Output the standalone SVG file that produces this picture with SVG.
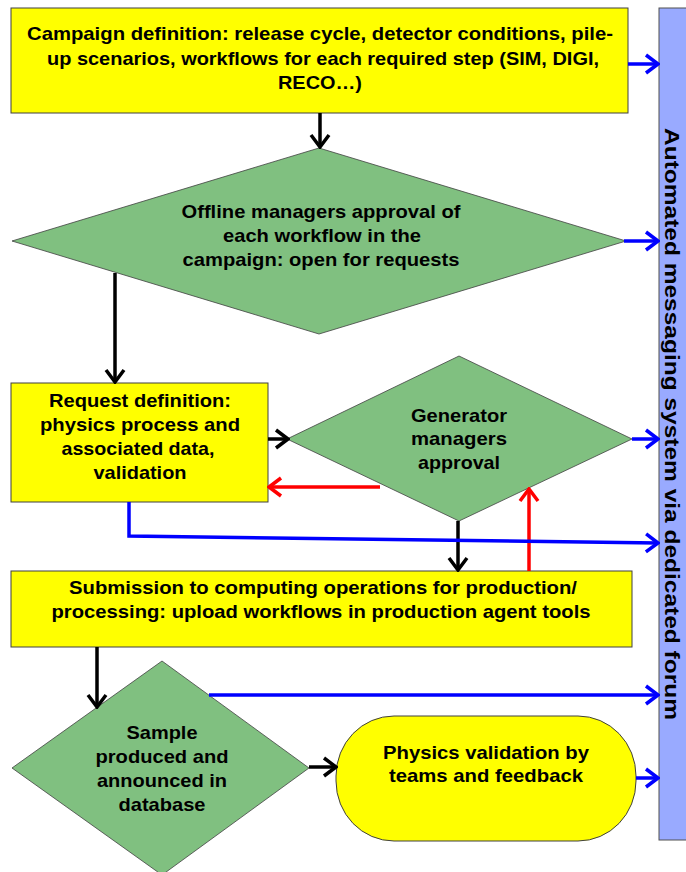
<svg xmlns="http://www.w3.org/2000/svg" width="686" height="872" viewBox="0 0 686 872">
<defs>
<style>
.box{fill:#FFFF00;stroke:#404040;stroke-width:1}
.dia{fill:#80C080;stroke:#404040;stroke-width:0.8}
.t{font-family:"Liberation Sans",Arial,sans-serif;font-weight:bold;font-size:18.5px;fill:#000;text-anchor:middle}
.bk{stroke:#000;stroke-width:3.5;fill:none}
.bl{stroke:#0000FF;stroke-width:3.5;fill:none}
.rd{stroke:#FF0000;stroke-width:3.5;fill:none}
</style>
<marker id="ak" viewBox="0 0 16 22" refX="14" refY="11" markerWidth="16" markerHeight="22" markerUnits="userSpaceOnUse" orient="auto"><path d="M2,2 L14,11 L2,20" fill="none" stroke="#000" stroke-width="3.5"/></marker>
<marker id="ab" viewBox="0 0 16 22" refX="14" refY="11" markerWidth="16" markerHeight="22" markerUnits="userSpaceOnUse" orient="auto"><path d="M2,2 L14,11 L2,20" fill="none" stroke="#0000FF" stroke-width="3.5"/></marker>
<marker id="ar" viewBox="0 0 16 22" refX="14" refY="11" markerWidth="16" markerHeight="22" markerUnits="userSpaceOnUse" orient="auto"><path d="M2,2 L14,11 L2,20" fill="none" stroke="#FF0000" stroke-width="3.5"/></marker>
</defs>
<rect width="686" height="872" fill="#FFFFFF"/>

<g id="forum">
<rect x="659" y="8" width="30" height="832" fill="#99AAFF" stroke="#505050" stroke-width="1"/>
<text transform="translate(665,424) rotate(90)" x="0" y="0" font-family="'Liberation Sans',Arial,sans-serif" font-weight="bold" font-size="21" text-anchor="middle" textLength="592" lengthAdjust="spacingAndGlyphs">Automated messaging system via dedicated forum</text>
</g>

<g id="campaign">
<rect class="box" x="11" y="8" width="617" height="105"/>
<text class="t"><tspan x="320" y="40" textLength="586" lengthAdjust="spacingAndGlyphs">Campaign definition: release cycle, detector conditions, pile-</tspan><tspan x="323" y="65" textLength="552" lengthAdjust="spacingAndGlyphs">up scenarios, workflows for each required step (SIM, DIGI,</tspan><tspan x="320" y="89" textLength="84" lengthAdjust="spacingAndGlyphs">RECO…)</tspan></text>
</g>

<g id="offline">
<polygon class="dia" points="319,148 626,241 319,334 12,241"/>
<text class="t"><tspan x="321" y="218" textLength="279" lengthAdjust="spacingAndGlyphs">Offline managers approval of</tspan><tspan x="322" y="242" textLength="198" lengthAdjust="spacingAndGlyphs">each workflow in the</tspan><tspan x="321" y="266" textLength="277" lengthAdjust="spacingAndGlyphs">campaign: open for requests</tspan></text>
</g>

<g id="request">
<rect class="box" x="11" y="383" width="257" height="119"/>
<text class="t"><tspan x="140" y="407" textLength="182" lengthAdjust="spacingAndGlyphs">Request definition:</tspan><tspan x="140" y="431" textLength="200" lengthAdjust="spacingAndGlyphs">physics process and</tspan><tspan x="138" y="455" textLength="153" lengthAdjust="spacingAndGlyphs">associated data,</tspan><tspan x="140" y="479" textLength="93" lengthAdjust="spacingAndGlyphs">validation</tspan></text>
</g>

<g id="generator">
<polygon class="dia" points="459,356 632,439 459,521 287,439"/>
<text class="t"><tspan x="459" y="422" textLength="96" lengthAdjust="spacingAndGlyphs">Generator</tspan><tspan x="459" y="445" textLength="96" lengthAdjust="spacingAndGlyphs">managers</tspan><tspan x="459" y="469" textLength="82" lengthAdjust="spacingAndGlyphs">approval</tspan></text>
</g>

<g id="submission">
<rect class="box" x="11" y="571" width="621" height="76"/>
<text class="t"><tspan x="323" y="594" textLength="508" lengthAdjust="spacingAndGlyphs">Submission to computing operations for production/</tspan><tspan x="321" y="618" textLength="539" lengthAdjust="spacingAndGlyphs">processing: upload workflows in production agent tools</tspan></text>
</g>

<g id="sample">
<polygon class="dia" points="162,661 309,768 162,875 12,768"/>
<text class="t"><tspan x="162" y="739" textLength="71" lengthAdjust="spacingAndGlyphs">Sample</tspan><tspan x="162" y="763" textLength="133" lengthAdjust="spacingAndGlyphs">produced and</tspan><tspan x="162" y="787" textLength="130" lengthAdjust="spacingAndGlyphs">announced in</tspan><tspan x="162" y="811" textLength="87" lengthAdjust="spacingAndGlyphs">database</tspan></text>
</g>

<g id="validation">
<rect class="box" x="336" y="716" width="300" height="125" rx="58" ry="60"/>
<text class="t"><tspan x="486" y="759" textLength="206" lengthAdjust="spacingAndGlyphs">Physics validation by</tspan><tspan x="486" y="782" textLength="194" lengthAdjust="spacingAndGlyphs">teams and feedback</tspan></text>
</g>

<g id="connectors">
<line class="bk" x1="320" y1="113" x2="320" y2="147" marker-end="url(#ak)"/>
<line class="bk" x1="115" y1="273" x2="115" y2="382" marker-end="url(#ak)"/>
<line class="bk" x1="268" y1="439" x2="288" y2="439" marker-end="url(#ak)"/>
<line class="bk" x1="458" y1="521" x2="458" y2="570" marker-end="url(#ak)"/>
<line class="bk" x1="97" y1="647" x2="97" y2="707" marker-end="url(#ak)"/>
<line class="bk" x1="309" y1="767" x2="336" y2="767" marker-end="url(#ak)"/>
<line class="rd" x1="380" y1="487" x2="269" y2="487" marker-end="url(#ar)"/>
<line class="rd" x1="529" y1="571" x2="529" y2="489" marker-end="url(#ar)"/>
<line class="bl" x1="628" y1="64" x2="658" y2="64" marker-end="url(#ab)"/>
<line class="bl" x1="624" y1="241" x2="658" y2="241" marker-end="url(#ab)"/>
<line class="bl" x1="632" y1="439" x2="658" y2="439" marker-end="url(#ab)"/>
<polyline class="bl" points="129,502 129,536 658,543" marker-end="url(#ab)"/>
<line class="bl" x1="209" y1="695" x2="658" y2="695" marker-end="url(#ab)"/>
<line class="bl" x1="636" y1="778" x2="658" y2="778" marker-end="url(#ab)"/>
</g>
</svg>
